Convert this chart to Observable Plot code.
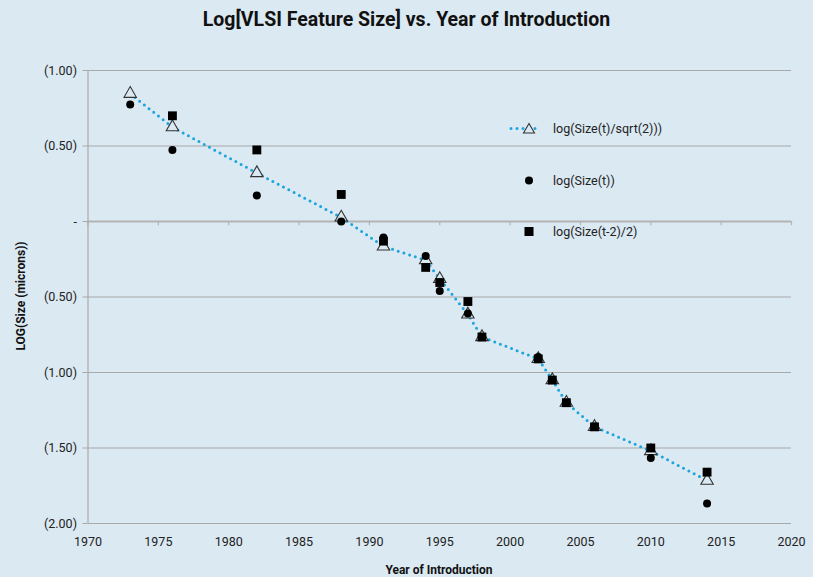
<!DOCTYPE html>
<html>
<head>
<meta charset="utf-8">
<script src="https://cdn.jsdelivr.net/npm/d3@7"></script>
<script src="https://cdn.jsdelivr.net/npm/@observablehq/plot@0.6"></script>
<style>
  body { margin: 0; background: #dbe9f2; font-family: Roboto, "Noto Sans", sans-serif; }
  #wrap { position: relative; width: 813px; height: 577px; background: #dbe9f2; overflow: hidden; }
  #title { position: absolute; left: 0; top: 8px; width: 813px; text-align: center; font-weight: bold; font-size: 19.5px; color: #111; }
  #xlabel { position: absolute; left: 87px; width: 704px; top: 563px; text-align: center; font-weight: bold; font-size: 12px; color: #111; }
  #ylabel { position: absolute; left: 21px; top: 296px; transform: translate(-50%, -50%) rotate(-90deg); white-space: nowrap; font-weight: bold; font-size: 12px; color: #111; }
  #legend { position: absolute; left: 508px; top: 0; font-size: 12.5px; color: #222; }
  .item { position: absolute; left: 0; display: flex; align-items: center; white-space: nowrap; transform: translateY(-50%); }
  .item svg { width: 36px; height: 14px; margin-right: 9px; overflow: visible; }
  svg.plot { position: absolute; left: 0; top: 0; }
</style>
</head>
<body>
<div id="wrap">
  <div id="title">Log[VLSI Feature Size] vs. Year of Introduction</div>
  <div id="ylabel">LOG(Size (microns))</div>
  <div id="xlabel">Year of Introduction</div>
  <div id="legend"></div>
</div>
<script>
// ---- data ----
const years = [1973, 1976, 1982, 1988, 1991, 1994, 1995, 1997, 1998, 2002, 2003, 2004, 2006, 2010, 2014];
const logSizeOverSqrt2 = [0.846, 0.625, 0.321, 0.027, -0.165, -0.256, -0.38, -0.615, -0.765, -0.91, -1.05, -1.2, -1.36, -1.52, -1.716];
const logSize = [0.775, 0.474, 0.173, 0.0, -0.106, -0.228, -0.46, -0.61, -0.765, -0.897, -1.05, -1.2, -1.36, -1.566, -1.867];
const logSizeTm2Half = [null, 0.70, 0.474, 0.179, -0.13, -0.304, -0.404, -0.53, -0.765, -0.91, -1.05, -1.2, -1.36, -1.5, -1.66];
const seriesNames = ["log(Size(t)/sqrt(2)))", "log(Size(t))", "log(Size(t-2)/2)"];
const xTicks = [1970, 1975, 1980, 1985, 1990, 1995, 2000, 2005, 2010, 2015, 2020];
const yTicks = [-2, -1.5, -1, -0.5, 0, 0.5, 1];

const bg = "#dbe9f2";
const lineBlue = "#1aa5df";
const gridGrey = "#a9a9a9";

const tri = years.map((x, i) => ({x, y: logSizeOverSqrt2[i]}));
const circ = years.map((x, i) => ({x, y: logSize[i]}));
const sq = years.map((x, i) => ({x, y: logSizeTm2Half[i]})).filter(d => d.y != null);

const fmtY = v => v === 0 ? "-" : "(" + Math.abs(v).toFixed(2) + ")";

const chart = Plot.plot({
  width: 813,
  height: 577,
  marginLeft: 87.5,
  marginRight: 22,
  marginTop: 70,
  marginBottom: 54,
  style: { background: "transparent", fontFamily: "Roboto, 'Noto Sans', sans-serif", fontSize: "12.5px", color: "#222" },
  x: { domain: [1970, 2020] },
  y: { domain: [-2, 1] },
  marks: [
    Plot.gridY(yTicks, { stroke: gridGrey, strokeOpacity: 1, strokeWidth: 1.2 }),
    Plot.ruleY([0], { stroke: "#b4b4b4", strokeWidth: 2 }),
    Plot.ruleX(xTicks, { y1: 0, y2: -0.028, stroke: "#b4b4b4", strokeWidth: 1.2 }),
    Plot.ruleX([1970], { y1: -2, y2: 1, stroke: gridGrey, strokeWidth: 1.2 }),
    Plot.axisY(yTicks, { tickSize: 5, tickPadding: 6, tickFormat: fmtY, stroke: gridGrey, strokeOpacity: 1, label: null, fill: "#222" }),
    Plot.axisX(xTicks, { tickSize: 0, tickPadding: 14, tickFormat: d => String(d), label: null, fill: "#222" }),
    Plot.line(tri, { x: "x", y: "y", stroke: lineBlue, strokeWidth: 3, strokeDasharray: "0 6", strokeLinecap: "round" }),
    Plot.dot(tri, { x: "x", y: "y", symbol: "triangle", r: 4.6, fill: bg, stroke: "#333", strokeWidth: 1.1 }),
    Plot.dot(circ, { x: "x", y: "y", symbol: "circle", r: 4, fill: "#000" }),
    Plot.dot(sq, { x: "x", y: "y", symbol: "square", r: 5, fill: "#000" })
  ]
});
chart.classList.add("plot");
document.getElementById("wrap").prepend(chart);

// ---- legend ----
const legend = document.getElementById("legend");
const legendY = [128, 180, 231];
const swatches = [
  `<svg viewBox="0 0 36 14"><line x1="3" y1="7" x2="33" y2="7" stroke="${lineBlue}" stroke-width="3" stroke-dasharray="0 6" stroke-linecap="round"/><path d="M21 2 L26.5 11.5 L15.5 11.5 Z" fill="${bg}" stroke="#333" stroke-width="1.1"/></svg>`,
  `<svg viewBox="0 0 36 14"><circle cx="21" cy="7" r="4" fill="#000"/></svg>`,
  `<svg viewBox="0 0 36 14"><rect x="16.5" y="2.5" width="9" height="9" fill="#000"/></svg>`
];
seriesNames.forEach((name, i) => {
  const d = document.createElement("div");
  d.className = "item";
  d.style.top = legendY[i] + "px";
  d.innerHTML = swatches[i] + `<span>${name}</span>`;
  legend.appendChild(d);
});
</script>
</body>
</html>
